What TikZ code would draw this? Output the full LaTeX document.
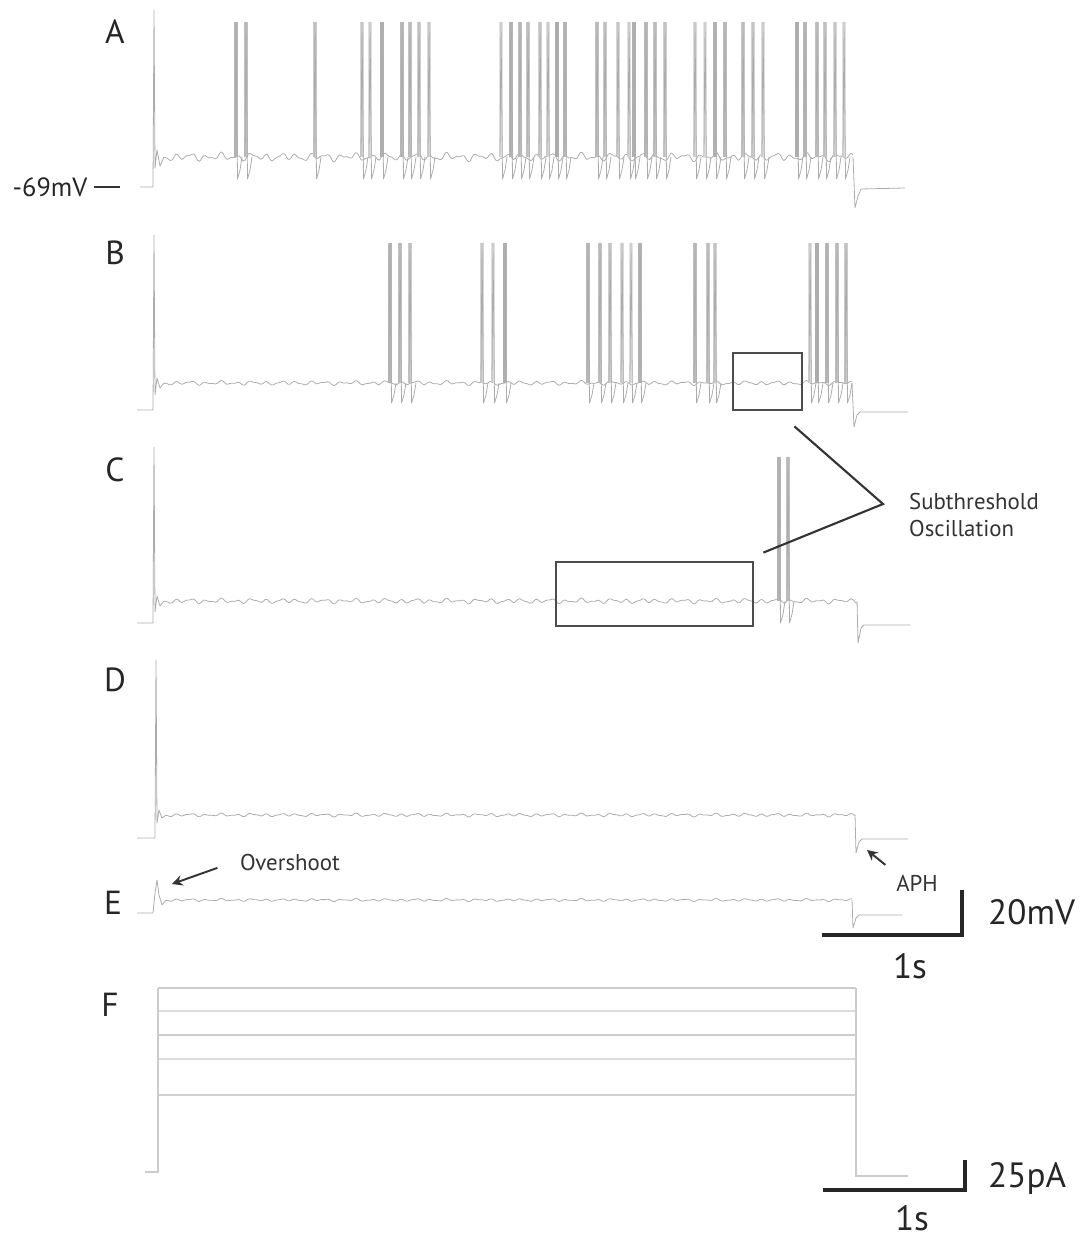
\documentclass[tikz,border=0pt]{standalone}
\usepackage{fontspec}
\setsansfont{PT Sans}
\usetikzlibrary{arrows.meta,positioning}
\tikzset{
	trace/.style={color=gray!65, line width=0.45pt, line join=round},
	spike/.style={line width=2pt},
	oscbox/.style={draw=black!70, line width=1.6pt, inner sep=0pt},
	pointer/.style={color=black!80, line width=1.2pt},
	dirpointer/.style={->,>={Stealth[width=6pt,length=6pt]},color=black!80, line width=1.1pt},
	scalebar/.style={color=black!85, line width=2.4pt},
	stimline/.style={color=gray!40, line width=1.3pt},
	panellabel/.style={font=\sffamily\fontsize{19}{19}\selectfont, text=black!85},
	annot/.style={font=\sffamily\fontsize{13}{15}\selectfont, text=black!80},
	barlabel/.style={font=\sffamily\fontsize{20}{20}\selectfont, text=black!85}
}
% noisy baseline: from, to, level, amplitude
\newcommand{\wiggle}[4]{%
	\draw[trace] plot[domain=#1:#2, samples=350, smooth] (\x, {#3+#4*(sin(24*mod(\x,15))+0.6*sin(40*mod(\x,9)+50)+0.5*sin(11*mod(\x,360)))});
}
% spikes: level, top, list, dip
\newcommand{\spikes}[4]{%
	\foreach \s [count=\i] in {#3} {
		\pgfmathtruncatemacro{\shade}{20+mod(\i*37,45)}
		\draw[spike, gray!\shade] (\s,#1) -- (\s,#2);
		\draw[trace] (\s-1,#1) -- (\s,#2) -- (\s+1.5,#1+#4) -- (\s+4,#1+#4*0.6) -- (\s+6,#1);
	}
}
\begin{document}
\begin{tikzpicture}[x=0.02cm,y=-0.02cm]
	\useasboundingbox (0,0) rectangle (1081,1239);
	%%%A
	\node[panellabel] (labA) at (115,32) {A};
	\node[annot, font=\sffamily\fontsize{15}{15}\selectfont, text=black!85] (vrest) at (50,187) {-69mV};
	\coordinate (vrestend) at (120,187);
	\draw[black!80, line width=1.4pt] (vrest.east) -- (vrestend);
	\draw[trace] (140,187) -- (153,187) -- (154,10) -- (155,168) -- (157,150) -- (160,166) -- (164,157);
	\wiggle{164}{853}{157}{2.4}
	\spikes{157}{22}{236,246,315,362,370,382,402,410,419,429,501,511,520,528,540,548,557,565,597,605,618,629,634,646,655,665,695,705,715,725,743,753,763,797,805,817,825,835,844}{22}
	\draw[trace] (853,157) -- (855,208) -- (858,196) -- (861,189) -- (905,188);
	%%%B
	\node[panellabel] (labB) at (115,253) {B};
	\draw[trace] (137,410) -- (153,410) -- (154,235) -- (155,395) -- (157,378) -- (160,388) -- (164,383);
	\wiggle{164}{852}{383}{1.3}
	\spikes{383}{243}{390,400,410,482,493,505,588,600,610,622,631,640,695,708,715,810,817,827,837,846}{20}
	\draw[trace] (852,383) -- (854,427) -- (857,415) -- (860,412) -- (908,412);
	\node[oscbox, minimum width=1.38cm, minimum height=1.14cm] (boxB) at (767.5,381.5) {};
	%%%C
	\node[panellabel] (labC) at (115,470) {C};
	\draw[trace] (137,623) -- (153,623) -- (154,447) -- (155,612) -- (157,596) -- (160,606) -- (164,601);
	\wiggle{164}{857}{601}{1.5}
	\spikes{601}{457}{779,788}{22}
	\draw[trace] (857,601) -- (858,643) -- (861,628) -- (864,625) -- (910,625);
	\node[oscbox, minimum width=3.94cm, minimum height=1.28cm] (boxC) at (654.5,594) {};
	%%%subthreshold callout
	\node[annot, align=left, anchor=west] (subth) at (903,515) {Subthreshold\\Oscillation};
	\coordinate (subtip) at (883,504);
	\draw[pointer] ([shift={(-9,15)}]boxB.south east) -- (subtip) -- ([shift={(9,-8)}]boxC.north east);
	%%%D
	\node[panellabel] (labD) at (115,680) {D};
	\draw[trace] (137,838) -- (155,838) -- (156,660) -- (157,823) -- (159,810) -- (162,818) -- (166,815);
	\wiggle{166}{855}{815}{1}
	\draw[trace] (855,815) -- (856,853) -- (859,842) -- (862,839) -- (908,839);
	%%%E
	\node[panellabel] (labE) at (113,903) {E};
	\draw[trace] (137,913) -- (153,913) -- (155,893) -- (157,880) -- (159,895) -- (162,905) -- (166,900);
	\wiggle{166}{852}{900}{0.8}
	\draw[trace] (852,900) -- (853,928) -- (856,918) -- (859,915) -- (902,915);
	\node[annot] (overshoot) at (290,862) {Overshoot};
	\coordinate (ospeak) at (172,884);
	\draw[dirpointer, shorten <=0.35cm] (overshoot.west) -- (ospeak);
	\node[annot] (aph) at (917,883) {APH};
	\coordinate (aphdip) at (867,850);
	\draw[dirpointer, shorten <=0.12cm] (aph.north west) -- (aphdip);
	%%%scale bar 1
	\coordinate (sbtop) at (962,890);
	\coordinate (sbcorner) at (962,935);
	\coordinate (sbleft) at (822,935);
	\draw[scalebar] (sbtop) -- (sbcorner) -- (sbleft);
	\node[barlabel, anchor=west] (mvlabel) at (982,912) {20mV};
	\node[barlabel] (slabelA) at (910,966) {1s};
	%%%F
	\node[panellabel] (labF) at (110,1005) {F};
	\foreach \lev/\c in {988/40,1011/28,1035/40,1059/28,1095/36} {
		\draw[stimline, gray!\c] (158,\lev) -- (856,\lev);
	}
	\draw[stimline] (145,1172) -- (158,1172) -- (158,988);
	\draw[stimline] (856,988) -- (856,1176) -- (908,1176);
	%%%scale bar 2
	\coordinate (pbtop) at (965,1160);
	\coordinate (pbcorner) at (965,1190);
	\coordinate (pbleft) at (823,1190);
	\draw[scalebar] (pbtop) -- (pbcorner) -- (pbleft);
	\node[barlabel, anchor=west] (palabel) at (982,1178) {25pA};
	\node[barlabel] (slabelB) at (912,1218) {1s};
\end{tikzpicture}
\end{document}
